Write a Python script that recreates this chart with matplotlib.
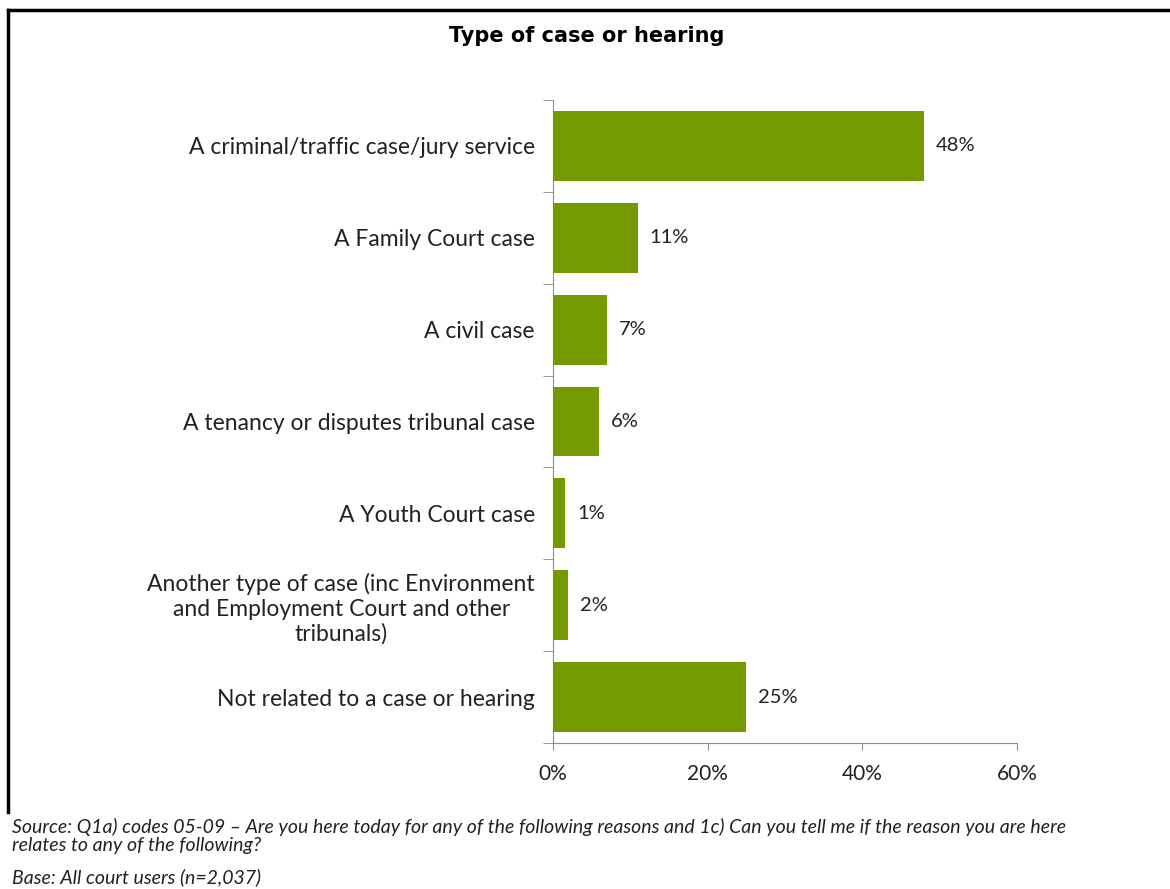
# Recria o grafico de barras horizontais "Type of case or hearing"

import matplotlib.pyplot as plt
from matplotlib.lines import Line2D
from matplotlib.ticker import PercentFormatter

# dados
categorias = ['A criminal/traffic case/jury service',
              'A Family Court case',
              'A civil case',
              'A tenancy or disputes tribunal case',
              'A Youth Court case',
              'Another type of case (inc Environment\nand Employment Court and other\ntribunals)',
              'Not related to a case or hearing']
valores = [48, 11, 7, 6, 1.6, 2, 25]
rotulos = ['48%', '11%', '7%', '6%', '1%', '2%', '25%']
ticks_x = [0, 20, 40, 60]

verde = '#739a00'
cinza = '#8c8c8c'

plt.rcParams['font.family'] = ['Lato', 'DejaVu Sans']

fig = plt.figure(figsize=(11.7, 8.89), dpi=100)
ax = fig.add_axes([553 / 1170, 1 - 743 / 889, (1017 - 553) / 1170, (743 - 100) / 889])

pos = list(range(len(categorias)))
ax.barh(pos, valores, height=0.76, color=verde, zorder=3)
for p, v, r in zip(pos, valores, rotulos):
    ax.text(v + 1.5, p, r, va='center', ha='left', fontsize=14.5, color='#222222')

ax.set_ylim(len(categorias) - 0.5, -0.5)
ax.set_xlim(0, 60)
ax.set_xticks(ticks_x)
ax.xaxis.set_major_formatter(PercentFormatter(decimals=0))
ax.set_yticks(pos)
ax.set_yticklabels(categorias, fontsize=16.5, color='#222222', linespacing=1.2,
                   multialignment='center')
ax.tick_params(axis='y', length=0, pad=13)
ax.set_yticks([p - 0.5 for p in pos] + [len(pos) - 0.5], minor=True)
ax.tick_params(axis='y', which='minor', length=7, color=cinza, direction='out')
ax.tick_params(axis='x', length=5, color=cinza, direction='out', labelsize=15,
               labelcolor='#222222', pad=10)
for lado in ['top', 'right']:
    ax.spines[lado].set_visible(False)
for lado in ['left', 'bottom']:
    ax.spines[lado].set_color(cinza)

fig.text(587 / 1170, 1 - 36 / 889, 'Type of case or hearing', ha='center', va='center',
         fontsize=15, fontweight='bold', family='DejaVu Sans')

# moldura
fig.add_artist(Line2D([8 / 1170, 8 / 1170], [1 - 10 / 889, 1 - 812 / 889], color='black', lw=2.5))
fig.add_artist(Line2D([8 / 1170, 1.0], [1 - 10 / 889, 1 - 10 / 889], color='black', lw=2.5))

fig.text(12 / 1170, 1 - 827 / 889,
         'Source: Q1a) codes 05-09 \u2013 Are you here today for any of the following reasons and 1c) Can you tell me if the reason you are here',
         fontsize=14, style='italic', va='center', color='#222222')
fig.text(12 / 1170, 1 - 846 / 889, 'relates to any of the following?',
         fontsize=14, style='italic', va='center', color='#222222')
fig.text(12 / 1170, 1 - 877 / 889, 'Base: All court users (n=2,037)',
         fontsize=14, style='italic', va='center', color='#222222')

fig.savefig('out.png', dpi=100, facecolor='white')
